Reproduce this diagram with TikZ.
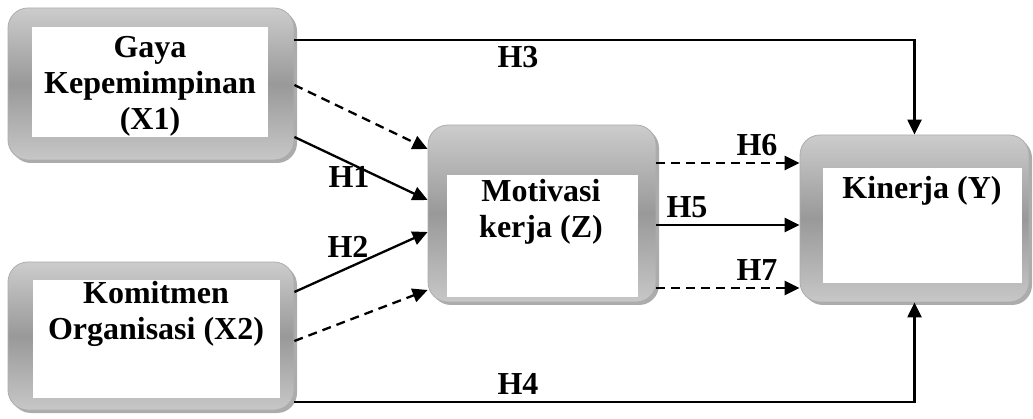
\documentclass[tikz,border=0pt]{standalone}
\usepackage{fontspec}
\setmainfont{Liberation Serif}
\usetikzlibrary{arrows.meta,shadows}
\begin{document}
\begin{tikzpicture}[x=1pt,y=-1pt,
  frame/.style={rectangle, rounded corners=20pt, draw=black!32, line width=0.8pt,
    top color=black!20, bottom color=black!22, middle color=black!40,
    drop shadow={shadow xshift=3pt, shadow yshift=-3pt, fill=black!65}},
  lbl/.style={font=\fontsize{32}{36}\selectfont\bfseries, align=center, inner sep=0pt},
  hl/.style={font=\fontsize{32}{36}\selectfont\bfseries, inner sep=0pt},
  arr/.style={line width=2.3pt, -{Triangle[length=15pt,width=14pt]}},
  dsh/.style={arr, dash pattern=on 9pt off 6pt}]
\useasboundingbox (0,0) rectangle (1033,419);
% boxes
\node[frame, minimum width=286pt, minimum height=152pt] (X1) at (151,84) {};
\fill[white] (32,27) rectangle (268,137);
\node[lbl] (tX1) at (150,86) {Gaya\\Kepemimpinan\\(X1)};
\node[frame, minimum width=286pt, minimum height=148pt] (X2) at (151,336) {};
\fill[white] (33,280) rectangle (280,398);
\node[lbl] (tX2) at (156,314) {Komitmen\\Organisasi (X2)};
\node[frame, minimum width=228pt, minimum height=177pt] (Z) at (542,213.5) {};
\fill[white] (447,175) rectangle (638,297);
\node[lbl] (tZ) at (541,212) {Motivasi\\kerja (Z)};
\node[frame, minimum width=229pt, minimum height=167pt] (Y) at (914.5,218.5) {};
\fill[white] (823,168) rectangle (1022,283);
\node[lbl] (tY) at (922,191) {Kinerja (Y)};
% connectors
\draw[arr] (X1.east |- 0,40) -| (Y.north);
\draw[arr] (X2.east |- 0,402) -| (Y.south);
\draw[dsh] (X1.east |- 0,85) -- (Z.west |- 0,149);
\draw[arr] (X1.east |- 0,137) -- (Z.west |- 0,200);
\draw[arr] (X2.east |- 0,292) -- (Z.west |- 0,232);
\draw[dsh] (X2.east |- 0,341) -- (Z.west |- 0,290);
\draw[dsh] (Z.east |- 0,163) -- (Y.west |- 0,163);
\draw[arr] (Z.east |- 0,225) -- (Y.west |- 0,225);
\draw[dsh] (Z.east |- 0,288) -- (Y.west |- 0,288);
% labels
\node[hl] (h3) at (518,57) {H3};
\node[hl] (h4) at (518,384) {H4};
\node[hl] (h1) at (349,177) {H1};
\node[hl] (h2) at (348,247) {H2};
\node[hl] (h6) at (757,145) {H6};
\node[hl] (h5) at (687,207) {H5};
\node[hl] (h7) at (757,270) {H7};
\end{tikzpicture}
\end{document}
